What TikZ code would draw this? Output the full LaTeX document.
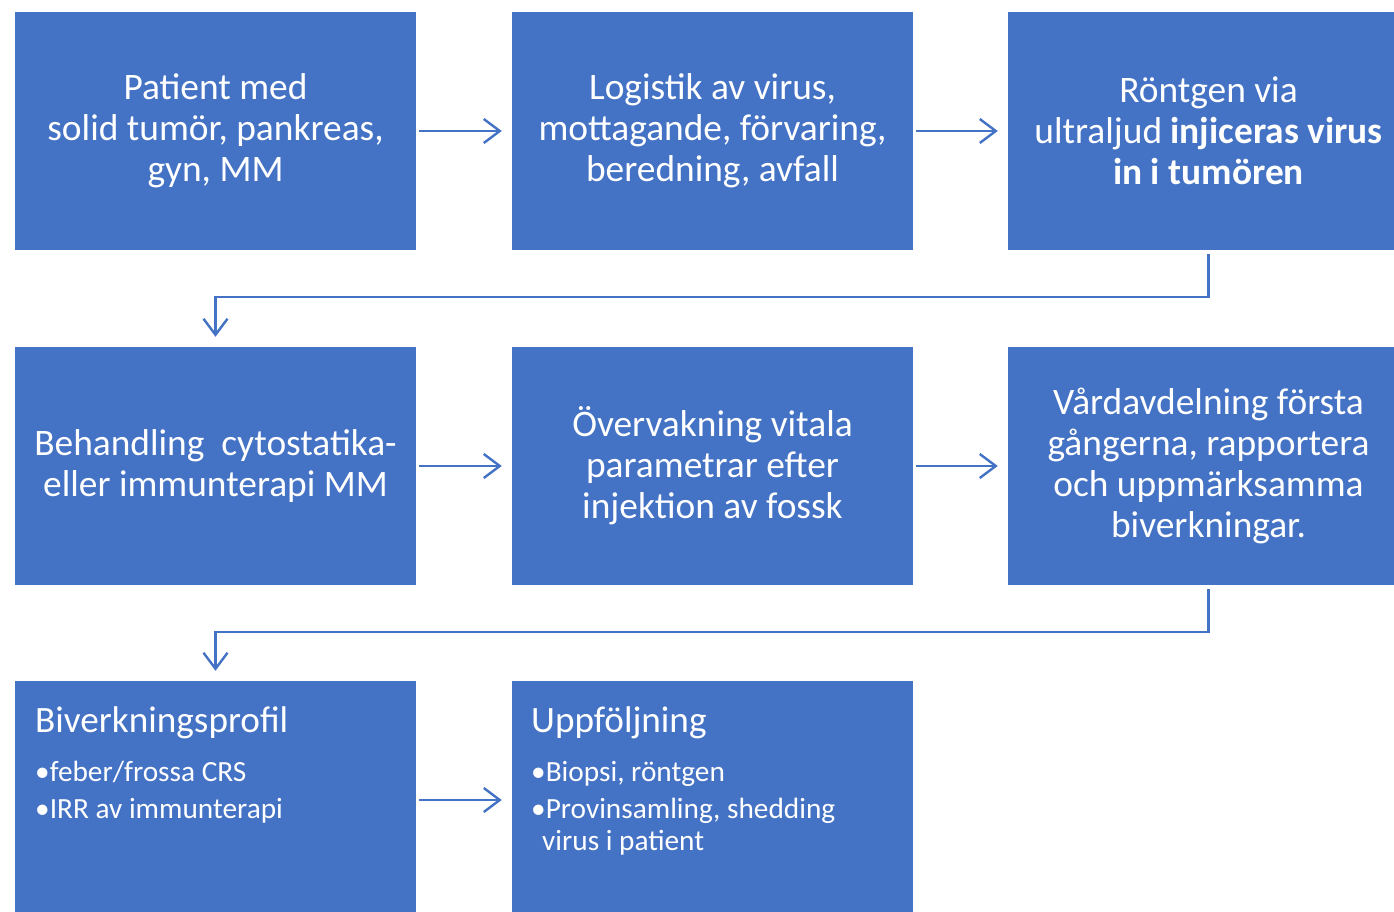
\documentclass[tikz,border=0pt]{standalone}
\usepackage{fontspec}
\setmainfont{Carlito}
\usetikzlibrary{arrows.meta}
\definecolor{boxblue}{HTML}{4472C4}
\tikzset{
  box/.style={fill=boxblue, draw=none, minimum width=401pt, minimum height=238pt, inner sep=0pt,
    text=white, align=center, font=\fontsize{37.4}{41}\selectfont},
  arr/.style={draw=boxblue, line width=2.4pt, -{Straight Barb[length=16pt,width=24pt]}},
  title/.style={text=white, anchor=base west, inner sep=0pt, font=\fontsize{37.2}{42}\selectfont},
  bullet/.style={text=white, anchor=base west, inner sep=0pt, font=\fontsize{29.3}{32}\selectfont},
}
\begin{document}
\begin{tikzpicture}[x=1pt,y=-1pt]
\clip (0,0) rectangle (1394,912);
\fill[white] (0,0) rectangle (1394,912);
% row 1
\node[box] (a1) at (215.5,131) {Patient med\\solid tumör, pankreas,\\gyn, MM};
\node[box] (a2) at (712.5,131) {Logistik av virus,\\mottagande, förvaring,\\beredning, avfall};
\node[box] (a3) at (1208.5,131) {Röntgen via\\ultraljud \textbf{injiceras virus}\\\textbf{in i tumören}};
% row 2
\node[box] (b1) at (215.5,466) {Behandling\ \ cytostatika-\\eller immunterapi MM};
\node[box] (b2) at (712.5,466) {Övervakning vitala\\parametrar efter\\injektion av fossk};
\node[box] (b3) at (1208.5,466) {Vårdavdelning första\\gångerna, rapportera\\och uppmärksamma\\biverkningar.};
% row 3
\node[box] (c1) at (215.5,800) {};
\node[box] (c2) at (712.5,800) {};
\node[title] (c1t) at (35,732) {Biverkningsprofil};
\node[bullet] (c1a) at (35,781) {•feber/frossa CRS};
\node[bullet] (c1b) at (35,818) {•IRR av immunterapi};
\node[title] (c2t) at (531,732) {Uppföljning};
\node[bullet] (c2a) at (531,781) {•Biopsi, röntgen};
\node[bullet] (c2b) at (531,818) {•Provinsamling, shedding};
\node[bullet] (c2c) at (542,850) {virus i patient};
% horizontal arrows
\draw[arr, shorten <=3pt, shorten >=10pt] (a1.east) -- (a2.west);
\draw[arr, shorten <=3pt, shorten >=10pt] (a2.east) -- (a3.west);
\draw[arr, shorten <=3pt, shorten >=10pt] (b1.east) -- (b2.west);
\draw[arr, shorten <=3pt, shorten >=10pt] (b2.east) -- (b3.west);
\draw[arr, shorten <=3pt, shorten >=10pt] (c1.east) -- (c2.west);
% elbow connectors
\coordinate (m1) at (0,297);
\coordinate (m2) at (0,632);
\draw[arr, shorten <=4pt, shorten >=10pt] (a3.south) -- (a3.south |- m1) -- (b1.north |- m1) -- (b1.north);
\draw[arr, shorten <=4pt, shorten >=10pt] (b3.south) -- (b3.south |- m2) -- (c1.north |- m2) -- (c1.north);
\end{tikzpicture}
\end{document}
